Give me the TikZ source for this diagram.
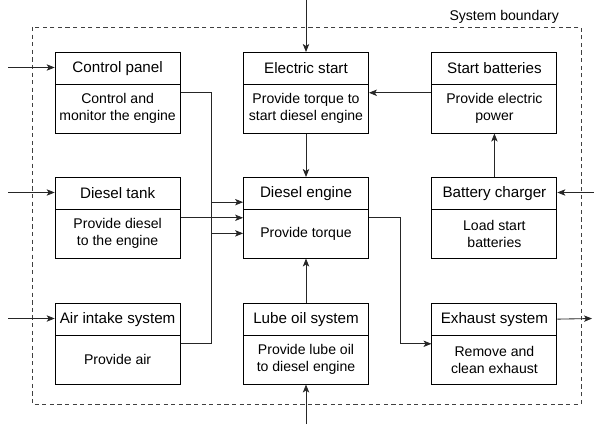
\documentclass[tikz,border=0pt]{standalone}
\usepackage{fontspec}
\setmainfont{Liberation Sans}
\usetikzlibrary{shapes.multipart, arrows.meta, calc}

\newcommand{\headpart}[1]{\parbox[c][0.775cm][c]{3.125cm}{\centering\fontsize{10.8}{12.2}\selectfont #1}}
\newcommand{\taskpart}[1]{\parbox[c][1.2cm][c]{3.125cm}{\centering\fontsize{10}{12.1}\selectfont #1}}

\begin{document}
\begin{tikzpicture}[
    block/.style={rectangle split, rectangle split parts=2, draw, line width=0.6pt, inner xsep=0pt, inner ysep=0pt, anchor=north},
    flow/.style={-{Stealth[length=2mm, width=1.6mm, inset=0.5mm]}, line width=0.6pt, black!85},
    boundary/.style={dash pattern=on 3pt off 2.4pt, line width=0.6pt, black!75}
]
\useasboundingbox (0,0) rectangle (14.85,-10.6);

% Control panel
\node[block] (panel) at (2.94, -1.3) {
    \headpart{Control panel}
    \nodepart{second}
    \taskpart{Control and\\monitor the engine}
};

% Electric start
\node[block] (estart) at (7.65, -1.3) {
    \headpart{Electric start}
    \nodepart{second}
    \taskpart{Provide torque to\\start diesel engine}
};

% Start batteries
\node[block] (batteries) at (12.36, -1.3) {
    \headpart{Start batteries}
    \nodepart{second}
    \taskpart{Provide electric\\power}
};

% Diesel tank
\node[block] (tank) at (2.94, -4.425) {
    \headpart{Diesel tank}
    \nodepart{second}
    \taskpart{Provide diesel\\to the engine}
};

% Diesel engine
\node[block] (engine) at (7.65, -4.425) {
    \headpart{Diesel engine}
    \nodepart{second}
    \taskpart{Provide torque}
};

% Battery charger
\node[block] (charger) at (12.36, -4.425) {
    \headpart{Battery charger}
    \nodepart{second}
    \taskpart{Load start\\batteries}
};

% Air intake system
\node[block] (air) at (2.94, -7.575) {
    \headpart{Air intake system}
    \nodepart{second}
    \taskpart{Provide air}
};

% Lube oil system
\node[block] (lube) at (7.65, -7.575) {
    \headpart{Lube oil system}
    \nodepart{second}
    \taskpart{Provide lube oil\\to diesel engine}
};

% Exhaust system
\node[block] (exhaust) at (12.36, -7.575) {
    \headpart{Exhaust system}
    \nodepart{second}
    \taskpart{Remove and\\clean exhaust}
};

% System boundary
\draw[boundary] (0.8,-0.675) rectangle (14.525,-10.1);
\node[anchor=south east, inner sep=2pt, font=\fontsize{10}{12}\selectfont] (bndlabel) at (14.05,-0.675) {System boundary};

% Free ends
\coordinate (inpanel) at (0.2, -1.6875);
\coordinate (intank) at (0.2, -4.8125);
\coordinate (inair) at (0.2, -7.9625);
\coordinate (incharger) at (14.85, -4.8125);
\coordinate (outexhaust) at (14.8, -7.9625);
\coordinate (intop) at (7.65, 0);
\coordinate (inbottom) at (7.65, -10.6);
\coordinate (jointL) at ($(panel.east)!0.5!(engine.west)$);
\coordinate (jointR) at ($(engine.east)!0.5!(exhaust.west)$);

% Flows
\draw[flow] (inpanel) -- (inpanel -| panel.west);
\draw[flow] (intank) -- (intank -| tank.west);
\draw[flow] (inair) -- (inair -| air.west);
\draw[flow] (incharger) -- (incharger -| charger.east);
\draw[flow] ($(exhaust.north east)!0.5!(exhaust.text split east)$) -- (outexhaust);
\draw[flow] (intop) -- (estart);
\draw[flow] (inbottom) -- (lube);
\draw[flow] (estart) -- (engine);
\draw[flow] (lube) -- (engine);
\draw[flow] (batteries.west) -- (estart.east);
\draw[flow] (charger) -- (batteries);
\draw[flow] (tank.east) -- (engine.west);
\draw[flow] (panel.east) -| (jointL) |- ($(engine.west)+(0,0.39)$);
\draw[flow] (air.east) -| (jointL) |- ($(engine.west)+(0,-0.39)$);
\draw[flow] (engine.east) -| (jointR) |- (exhaust.west);

\end{tikzpicture}
\end{document}
